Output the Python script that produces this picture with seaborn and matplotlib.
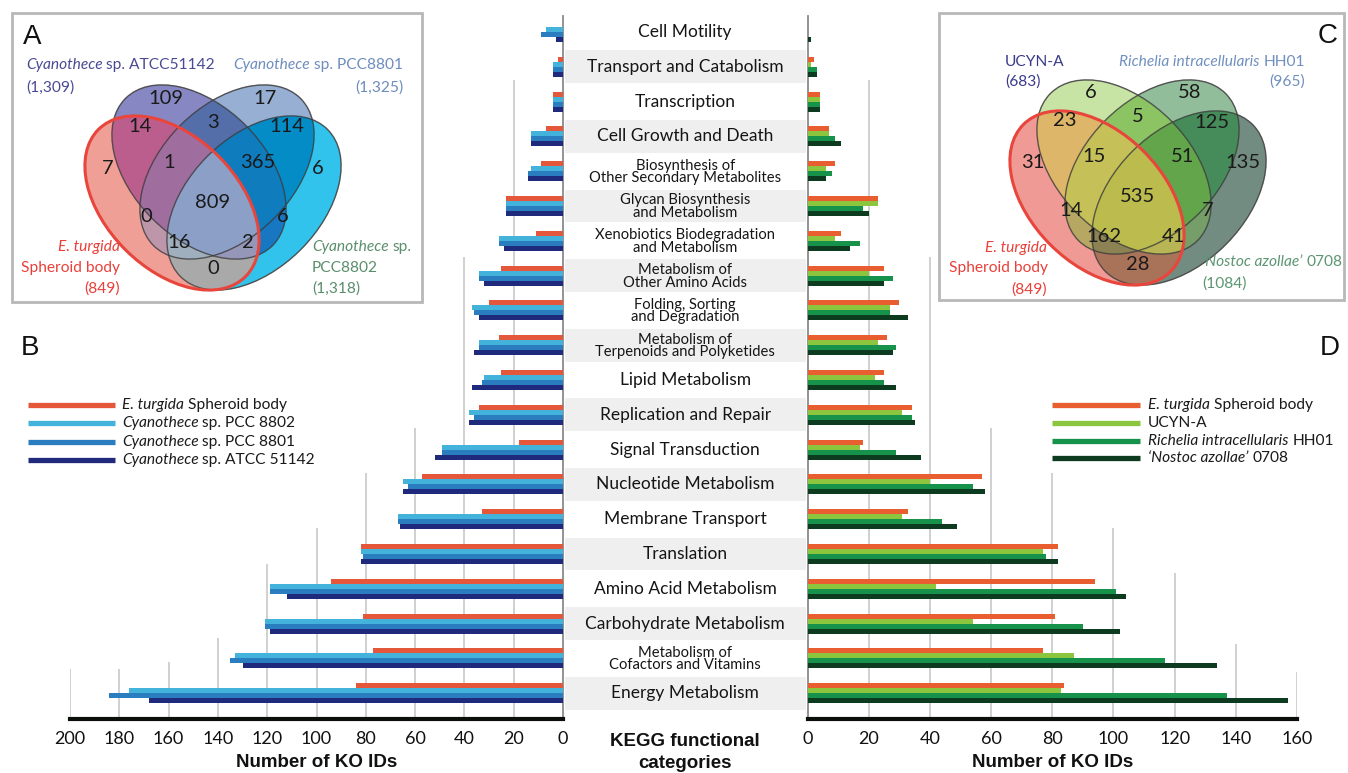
import numpy as np
import pandas as pd
import matplotlib
matplotlib.use('Agg')
import matplotlib.pyplot as plt
from matplotlib.patches import Ellipse, Rectangle
import seaborn as sns

# ---------------- data ----------------
categories = ['Cell Motility', 'Transport and Catabolism', 'Transcription', 'Cell Growth and Death',
              'Biosynthesis of\nOther Secondary Metabolites', 'Glycan Biosynthesis\nand Metabolism',
              'Xenobiotics Biodegradation\nand Metabolism', 'Metabolism of\nOther Amino Acids',
              'Folding, Sorting\nand Degradation', 'Metabolism of\nTerpenoids and Polyketides',
              'Lipid Metabolism', 'Replication and Repair', 'Signal Transduction',
              'Nucleotide Metabolism', 'Membrane Transport', 'Translation', 'Amino Acid Metabolism',
              'Carbohydrate Metabolism', 'Metabolism of\nCofactors and Vitamins', 'Energy Metabolism']

e_turgida = [0, 2, 4, 7, 9, 23, 11, 25, 30, 26, 25, 34, 18, 57, 33, 82, 94, 81, 77, 84]
pcc8802 = [7, 4, 4, 13, 13, 23, 26, 34, 37, 34, 32, 38, 49, 65, 67, 82, 119, 121, 133, 176]
pcc8801 = [9, 4, 4, 13, 14, 23, 26, 34, 36, 34, 33, 36, 49, 63, 67, 81, 119, 121, 135, 184]
atcc51142 = [3, 4, 4, 13, 14, 23, 24, 32, 34, 36, 37, 38, 52, 65, 66, 82, 112, 119, 130, 168]
ucyn_a = [0, 1, 4, 7, 6, 23, 9, 20, 27, 23, 22, 31, 17, 40, 31, 77, 42, 54, 87, 83]
richelia = [0, 3, 4, 9, 8, 18, 17, 28, 27, 29, 25, 34, 29, 54, 44, 78, 101, 90, 117, 137]
nostoc = [1, 3, 4, 11, 6, 20, 14, 25, 33, 28, 29, 35, 37, 58, 49, 82, 104, 102, 134, 157]

left_names = ['E. turgida Spheroid body', 'Cyanothece sp. PCC 8802',
              'Cyanothece sp. PCC 8801', 'Cyanothece sp. ATCC 51142']
right_names = ['E. turgida Spheroid body', 'UCYN-A',
               'Richelia intracellularis HH01', '\u2018Nostoc azollae\u2019 0708']
left_colors = ['#e5573b', '#43b3dc', '#2a7dbf', '#1f2a7c']
right_colors = ['#e85e30', '#8cc63f', '#17924a', '#0c3b1f']

left_ticks = list(range(0, 201, 20))
right_ticks = list(range(0, 161, 20))

# venn regions: bits = (set1, set2, set3, set4)
region_order = ['0100', '0010', '1100', '0110', '0011', '1000', '1110', '0111',
                '0001', '1111', '1010', '0101', '1011', '1101', '1001']
venn_a_counts = [109, 17, 14, 3, 114, 7, 1, 365, 6, 809, 0, 6, 16, 2, 0]
venn_c_counts = [6, 58, 23, 5, 125, 31, 15, 51, 135, 535, 14, 7, 162, 41, 28]

# ---------------- style ----------------
sns.set_style('white')
plt.rcParams['font.family'] = ['Lato', 'DejaVu Sans']

W, H = 1348, 773
fig = plt.figure(figsize=(W / 100, H / 100), dpi=100)


def px_rect(x0, y0, x1, y1):
    return [x0 / W, 1 - y1 / H, (x1 - x0) / W, (y1 - y0) / H]


TOP, BOT = 16, 719
ROW0, ROWH = 32, 34.8
ylim = ((BOT - ROW0) / ROWH, (TOP - ROW0) / ROWH)

ax_o = fig.add_axes([0, 0, 1, 1])
ax_o.set_xlim(0, W)
ax_o.set_ylim(H, 0)
ax_o.axis('off')

ax_l = fig.add_axes(px_rect(70, TOP, 563, BOT))
ax_c = fig.add_axes(px_rect(563, TOP, 807.5, BOT))
ax_r = fig.add_axes(px_rect(807.5, TOP, 1297, BOT))

left_df = pd.DataFrame({'category': categories * 4,
                        'series': np.repeat(left_names, len(categories)),
                        'value': e_turgida + pcc8802 + pcc8801 + atcc51142})
right_df = pd.DataFrame({'category': categories * 4,
                         'series': np.repeat(right_names, len(categories)),
                         'value': e_turgida + ucyn_a + richelia + nostoc})

# gridline start rows (staircase look of the original)
left_grid_top = [1.38, 6.47, 11.38, 12.67, 14.25, 15.3, 17.4, 18.1, 18.3, 18.3]
right_grid_top = [1.38, 6.47, 11.38, 12.67, 14.25, 15.55, 17.6, 18.4]


def draw_panel(ax, df, names, colors, ticks, grid_top, left_side):
    ax.set_facecolor('none')
    ax.vlines(ticks[1:], grid_top, ylim[0], colors='#c8c8c8', lw=1.2, zorder=0)
    sns.barplot(data=df, x='value', y='category', hue='series', order=categories,
                hue_order=names, palette=colors, orient='h', width=0.575,
                errorbar=None, saturation=1, linewidth=0, legend=False, ax=ax, zorder=3)
    ax.set_ylim(*ylim)
    ax.set_yticks([])
    ax.set_ylabel('')
    if left_side:
        ax.set_xlim(ticks[-1], 0)
    else:
        ax.set_xlim(0, ticks[-1])
    ax.set_xticks(ticks)
    ax.set_xticklabels([str(t) for t in ticks], fontsize=13, color='#111111')
    ax.tick_params(axis='x', length=0, pad=9)
    ax.set_xlabel('Number of KO IDs', fontsize=13.5, fontweight='bold',
                  family='Liberation Sans', labelpad=5, color='#111111')
    for s in ['top', 'left', 'right']:
        ax.spines[s].set_visible(False)
    side = 'right' if left_side else 'left'
    ax.spines[side].set_visible(True)
    ax.spines[side].set_color('#8a8a8a')
    ax.spines[side].set_linewidth(1.3)
    ax.spines['bottom'].set_color('#0a0f0a')
    ax.spines['bottom'].set_linewidth(3)


draw_panel(ax_l, left_df, left_names, left_colors, left_ticks, left_grid_top, True)
draw_panel(ax_r, right_df, right_names, right_colors, right_ticks, right_grid_top, False)

# center category column
ax_c.set_facecolor('none')
ax_c.set_xlim(0, 1)
ax_c.set_ylim(*ylim)
ax_c.axis('off')
for i, cat in enumerate(categories):
    if i % 2 == 1:
        ax_c.axhspan(i - 0.47, i + 0.47, xmin=0.008, xmax=0.995, color='#efefef', lw=0, zorder=0)
    two = '\n' in cat
    ax_c.text(0.5, i + (0.02 if two else 0.0), cat, ha='center', va='center',
              fontsize=10.6 if two else 12.5, linespacing=0.86, color='#151515')

for txt, y in [('KEGG functional', 741), ('categories', 764)]:
    ax_o.text(685, y, txt, ha='center', va='center', fontsize=13.5,
              fontweight='bold', family='Liberation Sans', color='#111111')

# panel letters
for letter, (x, y) in zip('ABCD', [(32, 37), (30, 348), (1328, 36), (1330, 348)]):
    ax_o.text(x, y, letter, ha='center', va='center', fontsize=20,
              family='Liberation Sans', color='#111111')

renderer = fig.canvas.get_renderer()


def rich(x, y, parts, color, size, ha='left'):
    gap = size * 100 / 72 * 0.24
    arts = []
    for s, st in parts:
        t = ax_o.text(0, y, s, fontsize=size, fontstyle=st, color=color, va='center', ha='left')
        arts.append((t, t.get_window_extent(renderer=renderer).width))
    total = sum(w for _, w in arts) + gap * (len(arts) - 1)
    cx = x if ha == 'left' else x - total
    for t, w in arts:
        t.set_x(cx)
        cx += w + gap


# legends
left_leg_parts = [[('E. turgida', 'italic'), ('Spheroid body', 'normal')],
                  [('Cyanothece', 'italic'), ('sp. PCC 8802', 'normal')],
                  [('Cyanothece', 'italic'), ('sp. PCC 8801', 'normal')],
                  [('Cyanothece', 'italic'), ('sp. ATCC 51142', 'normal')]]
right_leg_parts = [[('E. turgida', 'italic'), ('Spheroid body', 'normal')],
                   [('UCYN-A', 'normal')],
                   [('Richelia intracellularis', 'italic'), ('HH01', 'normal')],
                   [('\u2018Nostoc azollae\u2019', 'italic'), ('0708', 'normal')]]
for k in range(4):
    y = 405 + 18.3 * k
    ax_o.plot([28, 115], [y, y], color=left_colors[k], lw=3.8, solid_capstyle='butt')
    rich(122, y, left_leg_parts[k], '#1a1a1a', 11.2)
    y = 405 + 17.8 * k
    ax_o.plot([1052, 1140], [y, y], color=right_colors[k], lw=3.8, solid_capstyle='butt')
    rich(1148, y, right_leg_parts[k], '#1a1a1a', 11.2)

# ---------------- venn diagrams ----------------
ell_geom = [(-41, 1, 45), (-14, -30, 45), (14, -30, -45), (41, 1, -45)]
ell_w, ell_h = 208, 132
text_offsets = {'0100': (-47, -104), '0010': (52, -104), '1100': (-73, -76), '0110': (0, -80),
                '0011': (74, -75), '1000': (-105, -34), '1110': (-44, -40), '0111': (45, -40),
                '0001': (105, -34), '1111': (0, 0), '1010': (-67, 14), '0101': (70, 14),
                '1011': (-34, 40), '1101': (35, 40), '1001': (0, 67)}

venn_a_colors = {'1000': (240, 160, 150), '0100': (135, 135, 195), '0010': (150, 175, 210),
                 '0001': (50, 195, 235), '1100': (188, 95, 142), '0110': (85, 110, 170),
                 '0011': (5, 140, 200), '1001': (170, 170, 170), '1010': (190, 150, 170),
                 '1110': (160, 110, 160), '0111': (15, 125, 190), '1011': (160, 175, 190),
                 '1101': (150, 150, 185), '0101': (25, 120, 195), '1111': (140, 160, 200)}
venn_c_colors = {'1000': (240, 155, 148), '0100': (200, 228, 165), '0010': (145, 190, 155),
                 '0001': (115, 140, 130), '1100': (222, 182, 105), '0110': (140, 195, 100),
                 '0011': (70, 140, 90), '1001': (170, 115, 90), '1010': (182, 168, 100),
                 '1110': (198, 193, 88), '0111': (100, 165, 75), '1011': (140, 130, 85),
                 '1101': (185, 182, 85), '0101': (118, 158, 105), '1111': (188, 188, 78)}


def venn(cx, cy, box, counts, colors):
    x0, y0, x1, y1 = box
    ax_o.add_patch(Rectangle((x0, y0), x1 - x0, y1 - y0, fill=False, ec='#b8b8b8', lw=2, zorder=1))
    xs = np.arange(x0, x1, 0.5) + 0.25
    ys = np.arange(y0, y1, 0.5) + 0.25
    X, Y = np.meshgrid(xs, ys)
    code = np.zeros(X.shape, dtype=int)
    for k, (dx, dy, ang) in enumerate(ell_geom):
        t = np.deg2rad(ang)
        u = (X - cx - dx) * np.cos(t) + (Y - cy - dy) * np.sin(t)
        v = -(X - cx - dx) * np.sin(t) + (Y - cy - dy) * np.cos(t)
        inside = (u / (ell_w / 2)) ** 2 + (v / (ell_h / 2)) ** 2 <= 1
        code += inside.astype(int) << (3 - k)
    img = np.zeros(X.shape + (4,))
    for key, rgb in colors.items():
        img[code == int(key, 2)] = [c / 255 for c in rgb] + [1]
    ax_o.imshow(img, extent=(x0, x1, y1, y0), origin='upper', interpolation='bilinear',
                aspect='auto', zorder=2)
    for k, (dx, dy, ang) in enumerate(ell_geom):
        if k == 0:
            continue
        ax_o.add_patch(Ellipse((cx + dx, cy + dy), ell_w, ell_h, angle=ang, fill=False,
                               ec='#3c3c3c', lw=1.0, alpha=0.8, zorder=3))
    dx, dy, ang = ell_geom[0]
    ax_o.add_patch(Ellipse((cx + dx, cy + dy), ell_w, ell_h, angle=ang, fill=False,
                           ec='#e8463c', lw=2.2, zorder=4))
    for key, n in zip(region_order, counts):
        ox, oy = text_offsets[key]
        ax_o.text(cx + ox, cy + oy, str(n), ha='center', va='center', fontsize=14.5,
                  color='#1a1a1a', zorder=5)


venn(213, 202, (12, 13, 422, 302), venn_a_counts, venn_a_colors)
venn(1138, 197, (939, 13, 1344, 300), venn_c_counts, venn_c_colors)
ax_o.set_xlim(0, W)
ax_o.set_ylim(H, 0)

red = '#e8403a'
vs = 11.2
rich(26, 65, [('Cyanothece', 'italic'), ('sp. ATCC51142', 'normal')], '#4a4a94', vs)
rich(26, 88, [('(1,309)', 'normal')], '#4a4a94', vs)
rich(403, 65, [('Cyanothece', 'italic'), ('sp. PCC8801', 'normal')], '#6d8dbd', vs, ha='right')
rich(403, 88, [('(1,325)', 'normal')], '#6d8dbd', vs, ha='right')
rich(120, 247, [('E. turgida', 'italic')], red, vs, ha='right')
rich(120, 268, [('Spheroid body', 'normal')], red, vs, ha='right')
rich(120, 289, [('(849)', 'normal')], red, vs, ha='right')
rich(312, 247, [('Cyanothece', 'italic'), ('sp.', 'normal')], '#5b8e6c', vs)
rich(312, 268, [('PCC8802', 'normal')], '#5b8e6c', vs)
rich(312, 289, [('(1,318)', 'normal')], '#5b8e6c', vs)

rich(1005, 62, [('UCYN-A', 'normal')], '#3b3b8a', vs)
rich(1005, 82, [('(683)', 'normal')], '#3b3b8a', vs)
rich(1305, 62, [('Richelia intracellularis', 'italic'), ('HH01', 'normal')], '#7090c0', vs, ha='right')
rich(1305, 82, [('(965)', 'normal')], '#7090c0', vs, ha='right')
rich(1047, 248, [('E. turgida', 'italic')], red, vs, ha='right')
rich(1048, 268, [('Spheroid body', 'normal')], red, vs, ha='right')
rich(1047, 290, [('(849)', 'normal')], red, vs, ha='right')
rich(1202, 262, [('\u2018Nostoc azollae\u2019', 'italic'), ('0708', 'normal')], '#5c9672', vs)
rich(1202, 284, [('(1084)', 'normal')], '#5c9672', vs)

fig.savefig('out.png', dpi=100)
